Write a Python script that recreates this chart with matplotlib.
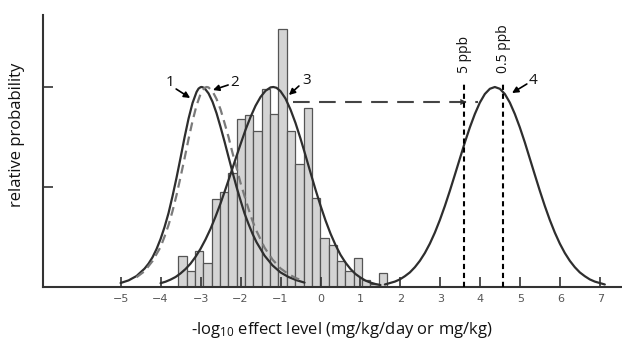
import numpy as np
import matplotlib
matplotlib.use("Agg")
import matplotlib.pyplot as plt

plt.rcParams['font.family'] = ['Open Sans', 'DejaVu Sans']
plt.rcParams['mathtext.fontset'] = 'custom'
plt.rcParams['mathtext.rm'] = 'Open Sans'
plt.rcParams['mathtext.default'] = 'regular'

# ---- data ----
hist_heights = [0.155, 0.08, 0.18, 0.12, 0.44, 0.475, 0.57, 0.84, 0.86, 0.78,
                0.99, 0.865, 1.29, 0.78, 0.615, 0.895, 0.445, 0.245, 0.21, 0.13,
                0.08, 0.145, 0.035, 0.015, 0.07]
hist_start = -3.56
hist_width = 0.209

curve1_x = [-5.0, -4.8, -4.6, -4.4, -4.3, -4.2, -4.1, -4.0, -3.9, -3.8, -3.7, -3.6,
            -3.5, -3.4, -3.3, -3.2, -3.1, -3.05, -3.0, -2.98, -2.95, -2.9, -2.8, -2.7,
            -2.6, -2.5, -2.4, -2.3, -2.2, -2.1, -2.0, -1.9, -1.8, -1.7, -1.6, -1.4,
            -1.2, -1.0, -0.8, -0.6, -0.4]
curve1_y = [0.02, 0.033, 0.055, 0.092, 0.117, 0.149, 0.19, 0.24, 0.30, 0.37, 0.455, 0.547,
            0.646, 0.748, 0.842, 0.92, 0.975, 0.992, 0.999, 1.0, 0.999, 0.994, 0.968, 0.926,
            0.869, 0.80, 0.727, 0.65, 0.574, 0.50, 0.433, 0.368, 0.315, 0.266, 0.224, 0.157,
            0.108, 0.073, 0.05, 0.034, 0.022]

curve2_x = [-4.6, -4.4, -4.2, -4.0, -3.9, -3.8, -3.7, -3.6, -3.5, -3.4, -3.3, -3.2,
            -3.1, -3.0, -2.9, -2.85, -2.8, -2.7, -2.6, -2.5, -2.4, -2.3, -2.2, -2.1,
            -2.0, -1.9, -1.8, -1.7, -1.6, -1.4, -1.2, -1.0, -0.8, -0.6, -0.4]
curve2_y = [0.049, 0.079, 0.13, 0.2, 0.252, 0.31, 0.38, 0.46, 0.55, 0.643, 0.74, 0.83,
            0.908, 0.965, 0.996, 1.0, 0.998, 0.978, 0.94, 0.888, 0.82, 0.75, 0.67, 0.597,
            0.52, 0.455, 0.39, 0.33, 0.28, 0.197, 0.137, 0.093, 0.064, 0.043, 0.029]

curve3_x = [-4.0, -3.875, -3.75, -3.625, -3.5, -3.375, -3.25, -3.125, -3.0, -2.875,
            -2.75, -2.625, -2.5, -2.375, -2.25, -2.125, -2.0, -1.875, -1.75, -1.625,
            -1.5, -1.375, -1.25, -1.18, -1.1, -1.0, -0.875, -0.75, -0.625, -0.5,
            -0.375, -0.25, -0.125, 0.0, 0.125, 0.25, 0.375, 0.5, 0.625, 0.75, 0.875,
            1.0, 1.125, 1.25, 1.375, 1.5]
curve3_y = [0.019, 0.0265, 0.037, 0.05, 0.068, 0.09, 0.117, 0.151, 0.191, 0.238,
            0.291, 0.352, 0.418, 0.49, 0.564, 0.64, 0.714, 0.786, 0.85, 0.906,
            0.95, 0.981, 0.998, 1.0, 0.996, 0.979, 0.942, 0.887, 0.82, 0.742,
            0.658, 0.572, 0.487, 0.407, 0.333, 0.267, 0.21, 0.161, 0.122, 0.09, 0.065,
            0.047, 0.032, 0.022, 0.0148, 0.0098]

curve4_x = [1.61, 1.86, 1.985, 2.11, 2.235, 2.36, 2.485, 2.61, 2.735, 2.86, 2.985, 3.11,
            3.235, 3.36, 3.485, 3.61, 3.735, 3.86, 3.985, 4.11, 4.235, 4.36, 4.485, 4.61,
            4.735, 4.86, 4.985, 5.11, 5.235, 5.36, 5.485, 5.61, 5.735, 5.86, 5.985, 6.11,
            6.235, 6.36, 6.485, 6.61, 6.735, 6.86, 7.11]
curve4_y = [0.0126, 0.027, 0.038, 0.054, 0.073, 0.099, 0.131, 0.17, 0.217, 0.272, 0.335, 0.405,
            0.481, 0.561, 0.642, 0.723, 0.798, 0.865, 0.922, 0.965, 0.991, 1.0, 0.991, 0.965,
            0.922, 0.865, 0.798, 0.723, 0.642, 0.561, 0.481, 0.405, 0.335, 0.272, 0.217, 0.17,
            0.131, 0.099, 0.073, 0.054, 0.038, 0.027, 0.0126]

ppb_x = [3.6, 4.57]
ppb_labels = ["5 ppb", "0.5 ppb"]
arrow_y = 0.925
arrow_x0, arrow_x1 = -0.7, 3.95

curve_labels = ["1", "2", "3", "4"]
label_pos = [(-3.76, 1.025), (-2.14, 1.025), (-0.34, 1.035), (5.31, 1.035)]
arrow_from = [(-3.61, 0.99), (-2.31, 1.01), (-0.54, 1.005), (5.16, 1.015)]
arrow_to = [(-3.26, 0.945), (-2.69, 0.985), (-0.79, 0.96), (4.79, 0.97)]

xticks = [-5, -4, -3, -2, -1, 0, 1, 2, 3, 4, 5, 6, 7]

# ---- figure ----
fig = plt.figure(figsize=(6.22, 3.43), dpi=100)
ax = fig.add_axes([43/622, 56/343, (622-43)/622, (287-15)/343])

centers = hist_start + hist_width * (np.arange(len(hist_heights)) + 0.5)
ax.bar(centers, hist_heights, width=hist_width, facecolor='#d4d4d4',
       edgecolor='#555555', linewidth=0.9, zorder=1)

line_kw = dict(solid_joinstyle='round', solid_capstyle='round', zorder=3)
ax.plot(curve1_x, curve1_y, color='#2e2e2e', lw=1.6, **line_kw)
ax.plot(curve2_x, curve2_y, color='#7a7a7a', lw=1.6, dashes=(4, 2.5), zorder=3)
ax.plot(curve3_x, curve3_y, color='#2e2e2e', lw=1.6, **line_kw)
ax.plot(curve4_x, curve4_y, color='#2e2e2e', lw=1.6, **line_kw)

# horizontal dashed arrow
ax.plot([arrow_x0, arrow_x1], [arrow_y, arrow_y], color='#444444', lw=1.5,
        dashes=(8, 4.5), zorder=2)
ax.annotate('', xy=(ppb_x[0] + 0.05, arrow_y), xytext=(ppb_x[0] - 0.3, arrow_y),
            arrowprops=dict(arrowstyle='-|>', color='#333333', lw=0.01,
                            mutation_scale=11, shrinkA=0, shrinkB=0), zorder=4)

# ppb lines
for xv, lab in zip(ppb_x, ppb_labels):
    ax.plot([xv, xv], [0, 1.03], color='black', lw=1.5, dashes=(2.5, 1.8), zorder=4)
    ax.text(xv, 1.07, lab, rotation=90, ha='center', va='bottom', fontsize=10,
            color='#111111')

# numbered labels with arrows
for lab, p, a0, a1 in zip(curve_labels, label_pos, arrow_from, arrow_to):
    ax.text(p[0], p[1], lab, ha='center', va='center', fontsize=11, color='#111111')
    ax.annotate('', xy=a1, xytext=a0,
                arrowprops=dict(arrowstyle='-|>', color='black', lw=1.2,
                                mutation_scale=9, shrinkA=0, shrinkB=0), zorder=5)

ax.set_xlim(-6.94, 7.54)
ax.set_ylim(0, 1.36)
ax.set_xticks(xticks)
ax.set_xticklabels([f"{v}".replace('-', '\u2212') for v in xticks],
                   fontsize=8, color='#555555', family='DejaVu Sans')
ax.set_yticks([0.5, 1.0])
ax.set_yticklabels([])
ax.tick_params(axis='both', direction='in', length=7, width=1.2, color='#333333')
ax.tick_params(axis='x', pad=5)
for s in ['top', 'right']:
    ax.spines[s].set_visible(False)
for s in ['left', 'bottom']:
    ax.spines[s].set_color('#333333')
    ax.spines[s].set_linewidth(1.5)

fig.text(17/622, (343-135)/343, 'relative probability', rotation=90,
         ha='center', va='center', fontsize=12, color='#111111')
fig.text(342/622, (343-330)/343, '-log$_{10}$ effect level (mg/kg/day or mg/kg)',
         ha='center', va='center', fontsize=12, color='#111111')

fig.savefig('out.png', dpi=100, facecolor='white')
